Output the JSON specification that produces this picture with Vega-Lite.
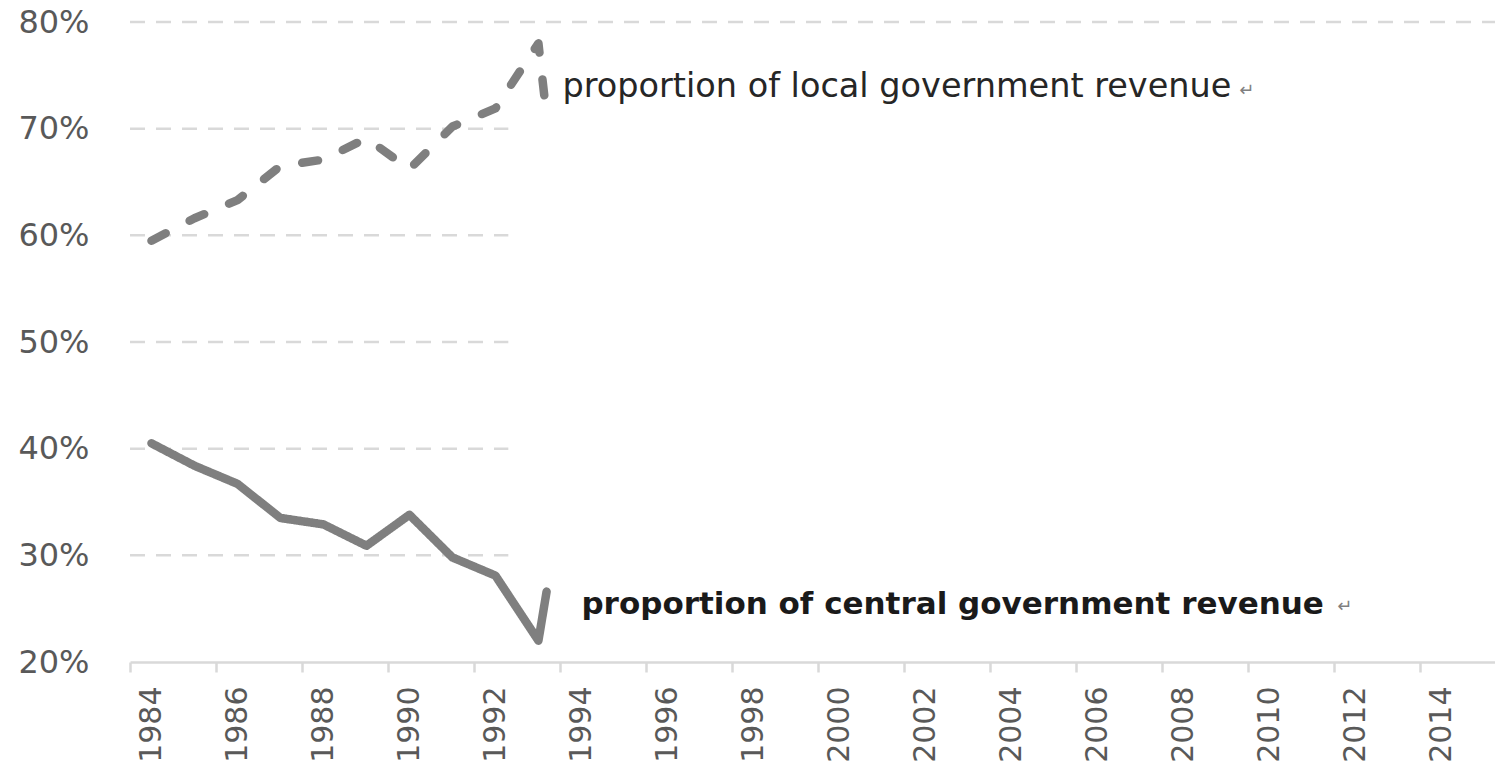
{
  "$schema": "https://vega.github.io/schema/vega-lite/v6.json",
  "autosize": {"type": "none"},
  "padding": {"left": 130, "top": 22, "right": 0, "bottom": 102},
  "width": 1365,
  "height": 640,
  "background": "white",
  "config": {"view": {"stroke": null}},
  "resolve": {"scale": {"x": "shared", "y": "shared"}},
  "layer": [
    {
      "data": {"values": [
        {"v": 0.3, "x1": 1983.5, "x2": 1992.3},
        {"v": 0.4, "x1": 1983.5, "x2": 1992.3},
        {"v": 0.5, "x1": 1983.5, "x2": 1992.3},
        {"v": 0.6, "x1": 1983.5, "x2": 1992.3},
        {"v": 0.7, "x1": 1983.5, "x2": 1992.3},
        {"v": 0.8, "x1": 1983.5, "x2": 2015.25}
      ]},
      "mark": {"type": "rule", "color": "#d9d9d9", "strokeWidth": 2.5, "strokeDash": [15, 11]},
      "encoding": {
        "x": {"field": "x1", "type": "quantitative",
          "scale": {"domain": [1983.5, 2015.25], "nice": false, "zero": false},
          "axis": {
            "values": [1984, 1986, 1988, 1990, 1992, 1994, 1996, 1998, 2000, 2002, 2004, 2006, 2008, 2010, 2012, 2014],
            "format": "d", "title": null, "grid": false,
            "domainColor": "#d9d9d9", "domainWidth": 2.5,
            "tickColor": "#d9d9d9", "tickWidth": 2.5, "tickSize": 10,
            "tickOffset": -21.5, "labelOffset": 21.5,
            "labelAngle": -90, "labelAlign": "right", "labelBaseline": "middle",
            "labelPadding": 14, "labelFont": "DejaVu Sans", "labelFontSize": 30,
            "labelColor": "#595959", "labelOverlap": false
          }},
        "x2": {"field": "x2"},
        "y": {"field": "v", "type": "quantitative",
          "scale": {"domain": [0.2, 0.8], "nice": false, "zero": false},
          "axis": {
            "values": [0.2, 0.3, 0.4, 0.5, 0.6, 0.7, 0.8],
            "format": ".0%", "title": null, "grid": false, "domain": false, "ticks": false,
            "labelPadding": 41, "labelFont": "DejaVu Sans", "labelFontSize": 32,
            "labelColor": "#595959"
          }}
      }
    },
    {
      "data": {"values": [
        {"year": 1984, "value": 0.595, "series": "local"},
        {"year": 1985, "value": 0.616, "series": "local"},
        {"year": 1986, "value": 0.633, "series": "local"},
        {"year": 1987, "value": 0.665, "series": "local"},
        {"year": 1988, "value": 0.671, "series": "local"},
        {"year": 1989, "value": 0.691, "series": "local"},
        {"year": 1990, "value": 0.662, "series": "local"},
        {"year": 1991, "value": 0.702, "series": "local"},
        {"year": 1992, "value": 0.719, "series": "local"},
        {"year": 1993, "value": 0.780, "series": "local"},
        {"year": 1993.2, "value": 0.708, "series": "local"},
        {"year": 1984, "value": 0.405, "series": "central"},
        {"year": 1985, "value": 0.384, "series": "central"},
        {"year": 1986, "value": 0.367, "series": "central"},
        {"year": 1987, "value": 0.335, "series": "central"},
        {"year": 1988, "value": 0.329, "series": "central"},
        {"year": 1989, "value": 0.309, "series": "central"},
        {"year": 1990, "value": 0.338, "series": "central"},
        {"year": 1991, "value": 0.298, "series": "central"},
        {"year": 1992, "value": 0.281, "series": "central"},
        {"year": 1993, "value": 0.220, "series": "central"},
        {"year": 1993.19, "value": 0.266, "series": "central"}
      ]},
      "mark": {"type": "line", "color": "#7f7f7f", "strokeWidth": 8.5, "strokeCap": "round", "strokeJoin": "round"},
      "encoding": {
        "x": {"field": "year", "type": "quantitative"},
        "y": {"field": "value", "type": "quantitative"},
        "detail": {"field": "series"},
        "strokeDash": {"field": "series", "type": "nominal",
          "scale": {"domain": ["local", "central"], "range": [[16, 27], [1, 0]]},
          "legend": null}
      }
    },
    {
      "data": {"values": [
        {"x": 1993.56, "y": 0.739, "label": "proportion of local government revenue"}
      ]},
      "mark": {"type": "text", "align": "left", "baseline": "middle", "font": "DejaVu Sans", "fontSize": 33.5, "color": "#262626"},
      "encoding": {
        "x": {"field": "x", "type": "quantitative"},
        "y": {"field": "y", "type": "quantitative"},
        "text": {"field": "label"}
      }
    },
    {
      "data": {"values": [
        {"x": 1994.0, "y": 0.2534, "label": "proportion of central government revenue"}
      ]},
      "mark": {"type": "text", "align": "left", "baseline": "middle", "font": "DejaVu Sans", "fontSize": 31, "fontWeight": "bold", "color": "#1a1a1a"},
      "encoding": {
        "x": {"field": "x", "type": "quantitative"},
        "y": {"field": "y", "type": "quantitative"},
        "text": {"field": "label"}
      }
    },
    {
      "data": {"values": [
        {"x": 2009.3, "y": 0.7353, "label": "↵"},
        {"x": 2011.58, "y": 0.2516, "label": "↵"}
      ]},
      "mark": {"type": "text", "align": "left", "baseline": "middle", "font": "DejaVu Sans", "fontSize": 18, "color": "#808080"},
      "encoding": {
        "x": {"field": "x", "type": "quantitative"},
        "y": {"field": "y", "type": "quantitative"},
        "text": {"field": "label"}
      }
    }
  ]
}
